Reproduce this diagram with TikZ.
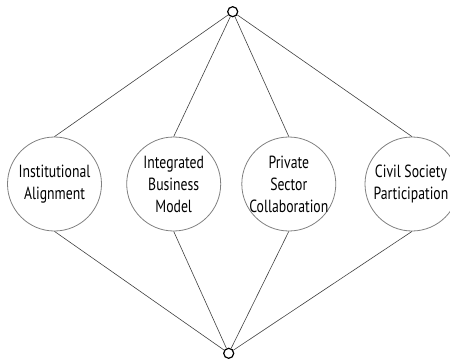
\documentclass[tikz,border=0pt]{standalone}
\usepackage{fontspec}
\setmainfont{PT Sans}[FakeStretch=0.78]
\begin{document}
\begin{tikzpicture}[x=1pt,y=-1pt,
  hub/.style={circle,draw=black,line width=1.2pt,minimum size=10pt,inner sep=0pt,fill=white},
  bigc/.style={circle,draw=black!50,line width=0.8pt,minimum size=94pt,inner sep=0pt},
  lbl/.style={align=center,font=\fontsize{17.6}{22}\selectfont,inner sep=0pt,text=black},
  conn/.style={draw=black!75,line width=0.6pt}]
\useasboundingbox (0,0) rectangle (450,359);
\node[bigc] (c1) at (54.5,184) {};
\node[bigc] (c2) at (173.7,184) {};
\node[bigc] (c3) at (288.8,184) {};
\node[bigc] (c4) at (412,184) {};
\node[lbl] (t1) at (c1.center) {Institutional\\Alignment};
\node[lbl] (t2) at (c2.center) {Integrated\\Business\\Model};
\node[lbl] (t3) at (c3.center) {Private\\Sector\\Collaboration};
\node[lbl] (t4) at ([xshift=-1pt]c4.center) {Civil Society\\Participation};
\node[hub] (top) at (232.7,11.7) {};
\node[hub] (bot) at (228.7,353.3) {};
\foreach \c in {c1,c2,c3,c4}{
  \draw[conn] (top) -- (\c.north);
  \draw[conn] (bot) -- (\c.south);
}
\end{tikzpicture}
\end{document}
